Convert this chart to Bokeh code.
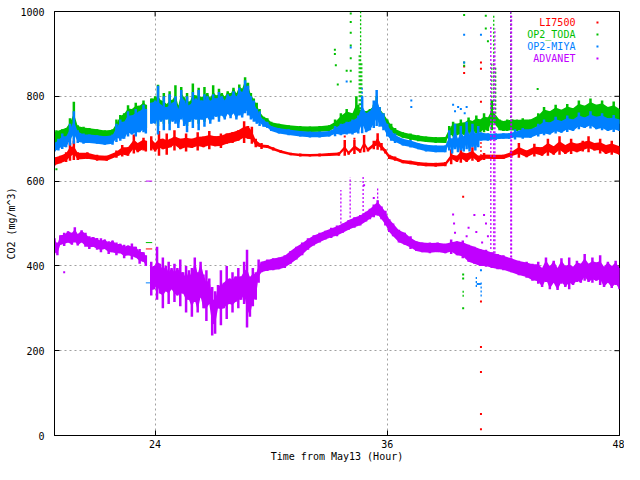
import math
from bokeh.plotting import figure
from bokeh.models import Range1d, FixedTicker, Label
from bokeh.embed import file_html
from bokeh.resources import INLINE

NAN = float("nan")

# ---------------- data ----------------
SERIES = ["LI7500", "OP2_TODA", "OP2-MIYA", "ADVANET"]
COLORS = ["#ff0000", "#00c000", "#0080ff", "#c000ff"]

X_TICKS = [24, 36, 48]
Y_TICKS = [0, 200, 400, 600, 800, 1000]

# LI7500 (red): time [h], dense-band low, dense-band high
li_t = [18.8, 19.1, 19.4, 19.6, 19.8, 20.0, 20.5, 21.0, 21.5, 22.0, 22.3, 22.6, 22.9, 23.1, 23.4, 23.52, NAN,
        23.8, 24.0, 24.2, 24.4, 24.6, 24.8, 25.0, 25.3, 25.6, 25.9, 26.2, 26.5, 26.8, 27.1, 27.4, 27.7,
        28.0, 28.3, 28.6, 28.8, 29.0, 29.2, 29.5, 29.8, 30.1, 30.5, 31.0, 31.5, 32.0, 32.5, 33.0, 33.5,
        33.8, 34.0, 34.3, 34.6, 34.8, 35.0, 35.3, 35.5, 35.7, 35.9, 36.1, 36.4, 36.8, 37.2, 37.6, 38.0,
        38.5, 39.0, 39.3, 39.6, 39.8, 40.1, 40.4, 40.7, 41.0, 41.5, 42.0, 42.4, 42.8, 43.2, 43.6, 44.0,
        44.3, 44.6, 44.9, 45.2, 45.5, 45.8, 46.1, 46.4, 46.7, 47.0, 47.3, 47.6, 48.0]
li_lo = [637, 642, 645, 648, 650, 650, 652, 648, 648, 655, 658, 660, 665, 668, 672, 670, NAN,
         672, 670, 660, 675, 662, 680, 672, 675, 670, 678, 672, 680, 675, 682, 678, 688,
         690, 695, 690, 700, 688, 680, 676, 678, 672, 666, 661, 658, 658, 658, 659, 660,
         660, 662, 664, 667, 668, 670, 675, 674, 672, 665, 652, 648, 642, 640, 637, 635,
         634, 635, 640, 645, 643, 645, 648, 645, 650, 652, 652, 655, 655, 656, 658, 660,
         660, 662, 662, 664, 664, 668, 670, 668, 672, 665, 664, 662, 662]
li_hi = [656, 660, 668, 690, 696, 668, 668, 662, 660, 672, 685, 680, 710, 690, 702, 695, NAN,
         706, 690, 718, 700, 712, 700, 720, 700, 712, 700, 715, 705, 718, 706, 712, 712,
         716, 720, 741, 730, 728, 700, 690, 685, 680, 673, 667, 665, 664, 665, 666, 668,
         697, 670, 697, 675, 709, 678, 695, 713, 690, 675, 662, 658, 650, 648, 645, 643,
         643, 645, 675, 660, 680, 665, 680, 660, 666, 662, 662, 672, 690, 672, 688, 680,
         700, 682, 706, 685, 700, 688, 695, 706, 690, 700, 685, 695, 682]

# OP2_TODA (green)
toda_t = [18.8, 18.9, 19.2, 19.4, 19.6, 19.8, 20.0, 20.3, 20.6, 21.0, 21.4, 21.8, 22.0, 22.2, 22.4, 22.6,
          22.8, 23.0, 23.2, 23.4, 23.52, NAN,
          23.8, 24.0, 24.15, 24.3, 24.45, 24.6, 24.75, 24.9, 25.05, 25.2, 25.35, 25.5, 25.65, 25.8, 25.95,
          26.1, 26.25, 26.4, 26.55, 26.7, 26.85, 27.0, 27.15, 27.3, 27.45, 27.6, 27.75, 27.9, 28.05, 28.2,
          28.35, 28.5, 28.65, 28.8, 28.95,
          29.1, 29.25, 29.4, 29.6, 29.8, 30.0, 30.4, 30.9, 31.5, 32.0, 32.5, 33.0, 33.3, 33.6, 33.9, 34.2,
          34.4, 34.5, 34.9, 35.1, 35.3, 35.45, 35.6, 35.8, 36.0, 36.2, 36.4, 36.8, 37.2, 37.6, 38.0, 38.5,
          39.0, 39.2, 39.4, 39.6, 39.8, 40.0, 40.2, 40.4, 40.6, 40.8, 41.0, 41.2, 41.4, 41.8, 42.0, 42.2,
          42.45, 42.7, 43.0, 43.4, 43.8, 44.1, 44.4, 44.7, 45.0, 45.3, 45.6, 45.9, 46.2, 46.5, 46.8, 47.1,
          47.4, 47.7, 48.0]
toda_lo = [690, 690, 695, 698, 700, 705, 705, 705, 705, 703, 700, 700, 705, 710, 712, 715,
           720, 720, 725, 728, 725, NAN,
           745, 740, 730, 745, 735, 750, 735, 750, 745, 740, 755, 740, 730, 750, 740,
           755, 735, 755, 740, 760, 745, 755, 762, 750, 765, 755, 768, 758, 770, 755,
           765, 760, 770, 765, 755,
           750, 745, 740, 735, 732, 725, 722, 718, 716, 716, 716, 718, 720, 722, 724, 726,
           728, 730, 735, 738, 742, 745, 742, 735, 722, 712, 708, 702, 697, 694, 692, 690,
           690, 700, 705, 708, 705, 708, 710, 712, 712, 715, 715, 718, 720, 720, 718, 718,
           720, 718, 718, 720, 725, 728, 730, 732, 733, 735, 737, 740, 742, 742, 740, 738,
           736, 735, 735]
toda_hi = [715, 720, 722, 725, 748, 787, 732, 728, 725, 722, 720, 722, 745, 756, 760, 779,
           770, 785, 778, 790, 780, NAN,
           795, 800, 827, 790, 808, 782, 812, 792, 826, 778, 822, 798, 808, 788, 830,
           802, 820, 798, 822, 808, 798, 826, 802, 818, 808, 800, 812, 808, 820, 808,
           828, 818, 845, 832, 808,
           795, 785, 770, 752, 748, 740, 735, 732, 730, 729, 730, 732, 745, 760, 770, 760,
           800, 780, 765, 770, 780, 800, 775, 760, 745, 735, 725, 715, 712, 708, 705, 704,
           704, 730, 740, 735, 745, 738, 750, 742, 755, 745, 760, 750, 790, 745, 742, 745,
           745, 745, 748, 745, 760, 775, 765, 780, 768, 782, 772, 790, 778, 795, 780, 790,
           775, 788, 770]

# OP2-MIYA (blue)
miya_t = [18.8, 19.0, 19.2, 19.4, 19.6, 19.8, 20.0, 20.3, 20.6, 21.0, 21.4, 21.8, 22.0, 22.2, 22.4, 22.6,
          22.8, 23.0, 23.2, 23.4, 23.52, NAN,
          23.8, 24.0, 24.15, 24.3, 24.45, 24.6, 24.75, 24.9, 25.05, 25.2, 25.35, 25.5, 25.65, 25.8, 25.95,
          26.1, 26.25, 26.4, 26.55, 26.7, 26.85, 27.0, 27.15, 27.3, 27.45, 27.6, 27.75, 27.9, 28.05, 28.2,
          28.35, 28.5, 28.65, 28.8, 28.95,
          29.1, 29.25, 29.4, 29.6, 29.8, 30.0, 30.4, 30.9, 31.5, 32.0, 32.5, 33.0, 33.3, 33.6, 33.9, 34.2,
          34.5, 34.7, 34.9, 35.1, 35.3, 35.45, 35.6, 35.8, 36.0, 36.2, 36.4, 36.8, 37.2, 37.6, 38.0, 38.5,
          39.0, 39.2, 39.35, 39.5, 39.65, 39.8, 39.95, 40.1, 40.25, 40.4, 40.55, 40.7, 40.85, 41.2, 41.6,
          42.0, 42.3, 42.6, 43.0, 43.4, 43.8, 44.1, 44.4, 44.7, 45.0, 45.3, 45.6, 45.9, 46.2, 46.5, 46.8,
          47.1, 47.4, 47.7, 48.0]
miya_lo = [670, 672, 676, 680, 684, 688, 690, 688, 690, 688, 686, 686, 692, 695, 700, 705,
           710, 705, 715, 715, 712, NAN,
           735, 735, 710, 740, 720, 745, 720, 740, 735, 725, 745, 730, 715, 740, 725,
           745, 720, 745, 728, 750, 735, 745, 752, 740, 755, 745, 758, 748, 760, 745,
           755, 750, 760, 755, 745,
           740, 735, 730, 728, 725, 718, 712, 708, 705, 703, 703, 705, 706, 708, 710, 710,
           712, 713, 715, 720, 725, 730, 728, 720, 705, 695, 690, 684, 679, 675, 670, 668,
           668, 672, 665, 675, 668, 672, 670, 675, 670, 680, 672, 680, 695, 695, 697,
           700, 700, 698, 700, 702, 705, 708, 710, 712, 714, 716, 718, 722, 725, 724, 722,
           720, 718, 716, 718]
miya_hi = [690, 700, 712, 705, 735, 765, 720, 712, 710, 708, 706, 710, 735, 745, 740, 765,
           755, 770, 765, 780, 770, NAN,
           785, 790, 825, 780, 800, 775, 805, 785, 800, 770, 815, 790, 800, 780, 810,
           795, 815, 790, 805, 800, 790, 805, 795, 810, 800, 790, 805, 800, 812, 800,
           820, 810, 838, 825, 800,
           790, 770, 765, 745, 740, 730, 725, 722, 718, 717, 717, 718, 730, 735, 740, 745,
           755, 800, 760, 765, 790, 815, 775, 760, 735, 720, 712, 700, 697, 690, 686, 684,
           684, 720, 700, 735, 700, 730, 705, 740, 710, 735, 712, 730, 715, 713, 713,
           713, 713, 722, 725, 722, 735, 745, 738, 752, 742, 755, 745, 762, 750, 765, 752,
           760, 748, 756, 745]

# ADVANET (purple)
adv_t = [18.8, 18.95, 19.1, 19.3, 19.5, 19.7, 19.85, 20.0, 20.2, 20.4, 20.6, 20.8, 21.0, 21.2, 21.4, 21.6,
         21.8, 22.0, 22.2, 22.4, 22.6, 22.8, 23.0, 23.2, 23.4, 23.52, NAN,
         23.8, 23.95, 24.1, 24.25, 24.4, 24.55, 24.7, 24.85, 25.0, 25.15, 25.3, 25.45, 25.6, 25.75, 25.9,
         26.05, 26.2, 26.35, 26.5, 26.65, 26.8, 26.95, 27.1, 27.25, 27.4, 27.55, 27.7, 27.85, 28.0, 28.15,
         28.3, 28.45, 28.6, 28.75, 28.9, 29.05, 29.2, 29.35,
         29.5, 29.8, 30.1, 30.4, 30.7, 31.0, 31.3, 31.6, 31.9, 32.2, 32.5, 32.8, 33.1, 33.4, 33.7, 34.0,
         34.3, 34.6, 34.9, 35.1, 35.3, 35.5, 35.7, 35.9, 36.1, 36.3, 36.6, 36.9, 37.2, 37.5, 37.8, 38.2,
         38.6, 39.0, 39.3, 39.6, 39.9, 40.2, 40.5, 40.8, 41.1, 41.4, 41.7, 42.0, 42.4, 42.8, 43.2, 43.5,
         43.8, 44.0, 44.2, 44.4, 44.6, 44.8, 45.0, 45.2, 45.4, 45.6, 45.8, 46.0, 46.2, 46.4, 46.6, 46.8,
         47.0, 47.2, 47.4, 47.6, 47.8, 48.0]
adv_lo = [430, 425, 450, 447, 455, 450, 455, 448, 455, 445, 440, 445, 438, 432, 440, 428,
          432, 425, 430, 418, 425, 415, 420, 405, 410, 400, NAN,
          330, 345, 320, 335, 300, 340, 310, 345, 315, 330, 305, 335, 290, 320, 280,
          315, 290, 325, 300, 270, 310, 236, 240, 300, 260, 300, 275, 310, 290, 315,
          300, 320, 310, 255, 280, 305, 320, 360,
          385, 388, 390, 392, 395, 405, 415, 425, 438, 448, 455, 462, 466, 470, 478, 485,
          490, 495, 505, 510, 515, 518, 510, 495, 480, 470, 455, 450, 440, 435, 432, 430,
          432, 430, 428, 425, 418, 410, 405, 400, 398, 395, 392, 390, 385, 378, 372, 365,
          358, 350, 362, 345, 360, 343, 358, 350, 345, 355, 362, 360, 365, 362, 360, 365,
          355, 350, 360, 348, 355, 345]
adv_hi = [465, 455, 472, 478, 482, 478, 491, 475, 484, 478, 470, 468, 466, 465, 462, 458,
          460, 455, 452, 450, 448, 453, 445, 440, 432, 425, NAN,
          410, 400, 445, 405, 420, 400, 410, 395, 405, 395, 415, 385, 400, 390, 395,
          420, 385, 410, 380, 390, 370, 350, 340, 355, 390, 360, 400, 370, 385, 375,
          395, 375, 410, 438, 375, 395, 385, 415,
          410, 415, 418, 420, 425, 435, 445, 455, 465, 472, 478, 483, 490, 495, 500, 508,
          515, 520, 528, 535, 545, 555, 540, 530, 510, 500, 485, 478, 470, 458, 455, 455,
          455, 452, 462, 458, 460, 450, 445, 440, 438, 432, 428, 425, 418, 412, 410, 405,
          410, 395, 420, 400, 412, 395, 418, 400, 420, 398, 412, 405, 428, 405, 420, 408,
          425, 398, 410, 400, 412, 395]

# vertical streaks (time, from, to) and isolated points (time, value)
li_streak_t = [40.84]
li_streak_a = [650]
li_streak_b = [700]
li_dot_t = [39.97, 39.97, 39.92, 40.84, 40.84, 40.84, 40.84, 40.84, 40.84, 40.84, 40.84, 19.8, 33.8, 34.3]
li_dot_y = [870, 855, 563, 880, 865, 787, 316, 209, 150, 51, 15, 700, 705, 700]

toda_streak_t = [34.55, 34.62, 34.68, 41.4, 41.5, 41.6, 42.38, 39.92]
toda_streak_a = [760, 760, 760, 740, 740, 740, 730, 327]
toda_streak_b = [900, 1000, 880, 880, 990, 870, 1000, 343]
toda_dot_t = [33.29, 33.29, 33.34, 33.44, 33.9, 34.11, 34.11, 34.11, 34.11, 34.11, 34.11, 34.11,
              39.97, 39.97, 39.97, 41.09, 41.09, 41.2, 43.77, 39.92, 39.92, 39.92, 18.9]
toda_dot_y = [910, 900, 873, 828, 860, 995, 975, 950, 920, 890, 860, 835,
              992, 880, 872, 990, 960, 930, 817, 380, 370, 300, 628]

miya_streak_t = [34.7, 40.6, 40.65, 40.7, 40.75, 40.8, 40.85]
miya_streak_a = [740, 350, 355, 355, 355, 355, 328]
miya_streak_b = [825, 375, 362, 362, 362, 362, 362]
miya_dot_t = [34.11, 39.97, 39.97, 40.84, 39.4, 39.5, 39.66, 39.8, 40.0, 40.1, 37.24, 37.24, 33.9, 40.84]
miya_dot_y = [915, 945, 880, 945, 780, 765, 775, 770, 760, 775, 790, 775, 835, 390]

adv_streak_t = [41.35, 41.5, 41.56, 42.38, 42.42, 33.6, 34.08, 34.75, 35.5]
adv_streak_a = [440, 430, 430, 420, 420, 500, 505, 520, 540]
adv_streak_b = [968, 900, 960, 1000, 990, 579, 609, 614, 586]
adv_dot_t = [35.3, 39.4, 39.45, 39.5, 40.1, 40.2, 40.5, 40.6, 41.0, 41.1, 41.2, 40.9, 19.3, 34.8]
adv_dot_y = [560, 521, 500, 478, 470, 490, 520, 480, 520, 500, 470, 455, 385, 590]

# short horizontal pieces drawn across the data gap (time from, time to, value)
gap_t0 = [23.52, 23.52, 23.52, 23.52]
gap_t1 = [23.85, 23.85, 23.85, 23.85]
gap_y = [440, 455, 360, 600]   # LI7500, OP2_TODA, OP2-MIYA, ADVANET

# ---------------- figure ----------------
X0, X1 = 18.8, 48.0
Y0, Y1 = 0, 1000
FONT = "DejaVu Sans Mono"
W, H = 624, 464
BL, BR, BT, BB = 54, 5, 11, 28

p = figure(width=W, height=H, output_backend="svg", toolbar_location=None,
           x_range=Range1d(X0, X1), y_range=Range1d(Y0, Y1),
           min_border_left=BL, min_border_right=BR, min_border_top=BT, min_border_bottom=BB)
p.background_fill_color = "white"
p.border_fill_color = "white"
p.outline_line_color = "black"
p.outline_line_width = 1
p.outline_line_alpha = 1

for ax in (p.xaxis[0], p.yaxis[0]):
    ax.axis_line_color = "black"
    ax.major_tick_line_color = "black"
    ax.major_tick_in = 5
    ax.major_tick_out = 0
    ax.minor_tick_line_color = None
    ax.major_label_text_font = FONT
    ax.major_label_text_font_size = "10px"
    ax.major_label_text_color = "black"
    ax.axis_label_text_font = FONT
    ax.axis_label_text_font_size = "10px"
    ax.axis_label_text_font_style = "normal"
    ax.axis_label_text_color = "black"

p.xaxis[0].ticker = FixedTicker(ticks=X_TICKS)
p.yaxis[0].ticker = FixedTicker(ticks=Y_TICKS)
p.xaxis[0].axis_label = "Time from May13 (Hour)"
p.yaxis[0].axis_label = "CO2 (mg/m^3)"
p.xaxis[0].major_label_standoff = 4
p.xaxis[0].axis_label_standoff = 0
p.yaxis[0].major_label_standoff = 10
p.yaxis[0].axis_label_standoff = 0

p.xgrid.ticker = FixedTicker(ticks=[24, 36])
p.ygrid.ticker = FixedTicker(ticks=[200, 400, 600, 800])
for g in (p.xgrid[0], p.ygrid[0]):
    g.grid_line_color = "#a0a0a0"
    g.grid_line_dash = "2 3"
    g.grid_line_width = 1

# mirrored inward tick marks on the right and top borders (5 px long)
fw = W - BL - BR
fh = H - BT - BB
dx = 5 * (X1 - X0) / fw
dy = 5 * (Y1 - Y0) / fh
p.segment(x0=[X1] * len(Y_TICKS), y0=Y_TICKS, x1=[X1 - dx] * len(Y_TICKS), y1=Y_TICKS,
          line_color="black", line_width=1)
p.segment(x0=X_TICKS, y0=[Y1] * len(X_TICKS), x1=X_TICKS, y1=[Y1 - dy] * len(X_TICKS),
          line_color="black", line_width=1)


def chunks(t, lo, hi):
    out, ct, cl, ch = [], [], [], []
    for a, b, c in zip(t, lo, hi):
        if isinstance(a, float) and math.isnan(a):
            if ct:
                out.append((ct, cl, ch))
            ct, cl, ch = [], [], []
        else:
            ct.append(a); cl.append(b); ch.append(c)
    if ct:
        out.append((ct, cl, ch))
    return out


def core(lo, hi):
    # dense centre of the band: own midpoint, narrowest half-width of the neighbourhood
    n = len(lo)
    half = [(h - l) / 2 for l, h in zip(lo, hi)]
    cl, ch = [], []
    for i in range(n):
        m = (lo[i] + hi[i]) / 2
        w = min(half[max(0, i - 1):i + 2])
        cl.append(m - w); ch.append(m + w)
    return cl, ch


groups = [
    (li_t, li_lo, li_hi, li_streak_t, li_streak_a, li_streak_b, li_dot_t, li_dot_y),
    (toda_t, toda_lo, toda_hi, toda_streak_t, toda_streak_a, toda_streak_b, toda_dot_t, toda_dot_y),
    (miya_t, miya_lo, miya_hi, miya_streak_t, miya_streak_a, miya_streak_b, miya_dot_t, miya_dot_y),
    (adv_t, adv_lo, adv_hi, adv_streak_t, adv_streak_a, adv_streak_b, adv_dot_t, adv_dot_y),
]

for i, (t, lo, hi, st, sa, sb, dt, dyy) in enumerate(groups):
    c = COLORS[i]
    for ct, cl, ch in chunks(t, lo, hi):
        kl, kh = core(cl, ch)
        p.varea(x=ct, y1=kl, y2=kh, fill_color=c, fill_alpha=1)
        p.segment(x0=ct, y0=cl, x1=ct, y1=ch, line_color=c, line_width=2.5)
    p.segment(x0=st, y0=sa, x1=st, y1=sb, line_color=c, line_width=1.3, line_dash="2 2")
    p.scatter(x=dt, y=dyy, marker="square", size=2, fill_color=c, line_color=None)
    p.segment(x0=[gap_t0[i]], y0=[gap_y[i]], x1=[gap_t1[i]], y1=[gap_y[i]], line_color=c, line_width=1)

# key: coloured names, right aligned, with a point sample to their right
KEY_X = X0 + 0.922 * (X1 - X0)
DOT_X = X0 + 0.961 * (X1 - X0)
for i, name in enumerate(SERIES):
    ky = Y0 + (0.974 - i * 0.0282) * (Y1 - Y0)
    p.add_layout(Label(x=KEY_X, y=ky, text=name, text_align="right", text_baseline="middle",
                       text_font=FONT, text_font_size="10px", text_color=COLORS[i]))
    p.scatter(x=[DOT_X], y=[ky], marker="square", size=2, fill_color=COLORS[i], line_color=None)

open("out.html", "w").write(file_html(p, INLINE))
